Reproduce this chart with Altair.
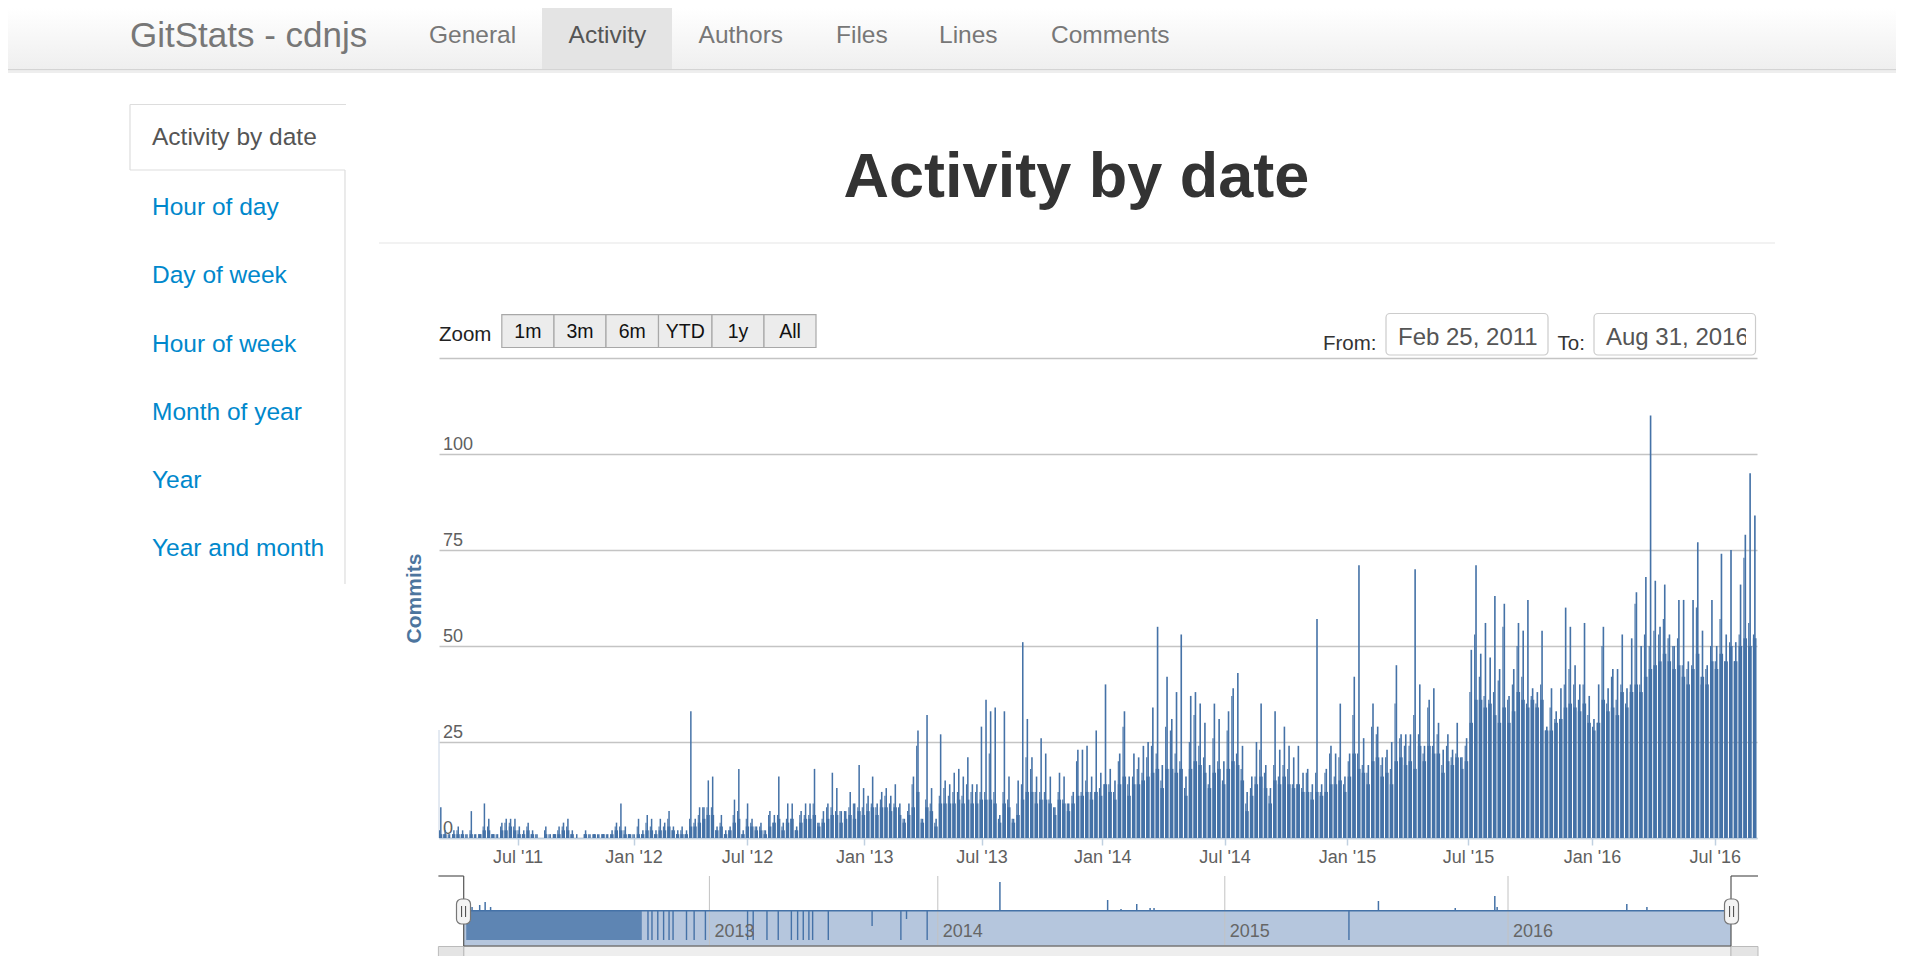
import altair as alt
import pandas as pd

# ---------------- data ----------------
# one entry per week, weeks start on Fridays from 2011-02-25
# blk = typical weekday commit level of the week, mid = second busiest day, pk = busiest day
blk_2011 = [1,1,0,1,1, 1,0,1,0,1, 2,2,1,0, 2,2,3,2,1, 1,2,1,0,0, 1,0,1, 1,2,2,1,0,0,1, 0,1,0,1,0, 1,2,2,1,1,0]
mid_2011 = [2,1,1,1,2, 1,1,2,1,1, 3,3,1,1, 3,4,4,3,2, 1,3,1,1,0, 2,1,1, 2,3,3,1,0,0,1, 1,1,1,1,1, 1,3,3,2,1,1]
pk_2011 = [8,2,1,2,3, 2,1,7,1,1, 9,5,1,1, 4,5,5,5,3, 2,4,2,1,0, 3,1,1, 3,4,5,2,1,0,2, 1,1,1,1,1, 2,4,9,3,1,1]

blk_2012 = [1,1,2,2,1,2,2,3,2,1,1,1, 3,3,4,5,6,6, 2,3,1,2,4,5,1,3,
            3,2,2,1,3,4,5,2,4,5,2,4,5,5,6,3,4,5,6,6,4,5,6,5,7,6]
mid_2012 = [3,1,4,3,1,3,3,5,2,1,2,1, 5,4,6,8,8,8, 2,4,1,2,6,7,1,5,
            4,3,3,2,6,4,6,3,5,5,2,6,6,6,9,4,5,8,8,7,7,7,8,9,8,8]
pk_2012 = [5,2,6,5,2,5,4,7,3,2,3,2, 33,5,8,8,15,16, 3,6,2,3,10,18,2,9,
           5,3,4,2,7,6,16,4,9,9,3,7,9,9,18,4,7,9,17,13,7,7,12,9,19,13]

blk_2013 = [7,8,6,8,8,7,8,6,4,6,8,12,4,8,7,3,9,9,9,9,10,9,10,9,9,10,
            10,10,9,4,9,8,4,6,10,12,12,9,10,10,9,6,10,9,7,9,11,11,12,10,12,11]
mid_2013 = [9,9,8,10,11,9,9,8,5,7,14,24,5,10,9,4,11,13,11,12,12,11,14,12,12,12,
            12,22,12,5,12,10,5,9,14,21,18,12,12,12,10,8,12,10,9,11,20,12,15,12,12,13]
pk_2013 = [11,16,9,12,13,11,14,9,5,9,16,28,5,32,13,5,27,15,14,17,18,16,21,14,14,29,
           36,33,34,6,33,16,5,15,51,31,21,16,26,22,16,8,17,16,9,12,23,23,24,16,28,17]

blk_2014 = [14,12,10,14,16,11,14,14,15,16,17,18,13,18,18,17,18,11,18,20,19,17,13,17,18,14,
            18,20,19,15,7,11,14,16,13,9,15,14,16,14,13,14,12,12,10,12,11,12,14,14,15,12]
mid_2014 = [14,14,12,20,29,14,16,18,17,21,24,22,15,29,28,22,20,13,25,32,24,21,14,26,20,15,
            28,37,22,18,9,13,16,23,17,11,19,16,19,18,14,14,13,17,12,17,12,17,22,16,21,14]
pk_2014 = [40,18,15,22,33,16,22,21,24,25,34,55,19,42,31,38,53,16,37,38,35,30,19,35,31,20,
           33,39,43,24,12,16,25,35,19,13,33,23,29,24,21,24,17,18,14,57,14,18,24,22,35,16]

blk_2015 = [16,22,18,17,14,20,21,16,17,14,20,21,19,20,18,24,20,24,22,22,17,20,19,21,18,20,
            30,36,36,34,35,32,30,34,30,33,38,36,34,36,34,36,28,28,30,31,34,35,34,33,35,30]
mid_2015 = [20,32,22,19,17,29,27,19,21,18,35,26,24,24,32,27,22,34,24,27,19,24,21,22,21,24,
            38,53,42,37,36,38,41,55,36,40,50,42,35,37,35,40,28,34,31,31,40,44,40,36,40,32]
pk_2015 = [22,42,71,26,19,35,29,21,23,25,45,27,27,27,70,40,24,36,39,30,23,27,23,30,21,26,
           49,71,48,56,47,63,44,61,37,44,56,54,62,39,38,54,29,39,33,39,60,55,45,40,56,37]

blk_2016 = [28,30,36,33,34,32,38,34,38,40,38,42,44,45,46,48,46,44,45,42,40,44,48,42,40,46,
            44,48,46,50,46,50,52,50,52]
mid_2016 = [29,30,50,35,42,36,40,35,40,61,40,53,50,54,53,57,52,50,52,45,44,45,60,40,44,50,
            46,57,46,51,46,53,73,56,53]
pk_2016 = [31,40,55,39,44,44,53,39,52,64,50,68,110,67,55,66,53,50,62,62,46,62,77,54,45,62,
           50,74,53,75,51,66,79,95,84]

x_tick_dates = ["2011-07-01", "2012-01-01", "2012-07-01", "2013-01-01", "2013-07-01", "2014-01-01",
                "2014-07-01", "2015-01-01", "2015-07-01", "2016-01-01", "2016-07-01"]
y_ticks = [0, 25, 50, 75, 100, 125]

nav_year_dates = ["2013-01-01", "2014-01-01", "2015-01-01", "2016-01-01"]
nav_year_labels = ["2013", "2014", "2015", "2016"]
nav_spike_dates = ["2011-03-20", "2011-04-10", "2011-04-25", "2011-05-10", "2014-03-21", "2014-08-05",
                   "2014-08-22", "2014-09-11", "2014-09-28", "2014-10-03", "2015-07-18", "2015-10-25",
                   "2015-12-15", "2015-12-18", "2016-03-27", "2016-05-10", "2016-06-01"]
nav_spike_h = [4, 6, 9, 4, 29, 11, 2, 7, 3, 3, 10, 3, 15, 4, 1, 7, 4]
nav_dip_dates = ["2012-07-16", "2012-07-27", "2012-08-12", "2012-08-28", "2012-09-12", "2012-09-23",
                 "2012-10-30", "2012-11-20", "2012-12-21", "2013-03-03", "2013-03-12", "2013-04-03",
                 "2013-04-21", "2013-05-12", "2013-05-22", "2013-05-31", "2013-06-09", "2013-06-15",
                 "2013-07-10", "2013-09-18", "2013-11-03", "2013-11-12", "2013-12-15", "2015-06-10"]
nav_dip_d = [-29, -29, -29, -29, -29, -29, -29, -29, -29, -29, -29, -29,
             -29, -29, -29, -29, -29, -29, -29, -15, -29, -8, -29, -29]
nav_dense_from = ["2011-03-04"]
nav_dense_to = ["2012-06-29"]
nav_dense_d = [-29]

# ---------------- helpers ----------------
FONT = "Liberation Sans"
OX, OY = 439.0, 358.0          # page position of plot origin
W, H = 1318, 480
PAD = {"left": 431, "top": 350, "right": 139, "bottom": 118}
BASE = pd.Timestamp("2011-02-25")


def day(s):
    """days since 2011-02-25 (the first day of the chart)"""
    return (pd.Timestamp(s) - BASE) / pd.Timedelta(days=1)


LABEL_EXPR = "utcFormat(utc(2011, 1, 25) + datum.value * 86400000, \"%b '%y\")"

blk = blk_2011 + blk_2012 + blk_2013 + blk_2014 + blk_2015 + blk_2016
mid = mid_2011 + mid_2012 + mid_2013 + mid_2014 + mid_2015 + mid_2016
pk = pk_2011 + pk_2012 + pk_2013 + pk_2014 + pk_2015 + pk_2016
starts = pd.date_range("2011-02-25", periods=len(blk), freq="7D")
d0 = [day(s) for s in starts]
df = pd.DataFrame({
    "start": d0,
    "end": [d + 5.3 for d in d0],
    "m1": [d + 1.7 for d in d0],
    "s1": [d + 4.1 for d in d0],
    "blk": blk,
    "mid": mid,
    "pk": pk,
})

# the stock chart's compressed (ordinal) time axis, as a piecewise linear scale
x_breaks = [day(s) for s in ["2011-02-25"] + x_tick_dates + ["2016-09-01"]]
x_range = [0, 78.5, 194.6, 308, 425.3, 542.5, 663.2, 785.6, 908, 1029, 1153, 1275.7, 1318]
xs = alt.Scale(type="linear", domain=x_breaks, range=x_range, nice=False, zero=False, padding=0)
ys = alt.Scale(domain=[0, 125], range=[H, 0], nice=False, zero=True, padding=0)

nav_breaks = [day(s) for s in ["2011-02-25", "2013-01-01", "2014-01-01", "2015-01-01", "2016-01-01", "2016-09-01"]]
nav_range = [24.7, 270.4, 498.8, 785.8, 1069, 1292]
navx = alt.Scale(type="linear", domain=nav_breaks, range=nav_range, nice=False, zero=False, padding=0)
navy = alt.Scale(domain=[-35, 35], range=[588, 518], nice=False, zero=False, padding=0)


def rect_df(rows):
    return pd.DataFrame([{"x": a - OX, "y": b - OY, "x2": c - OX, "y2": d - OY,
                          "fill": f, "stroke": s, "sw": w} for (a, b, c, d, f, s, w) in rows])


def rect_layer(rows, **mk):
    return alt.Chart(rect_df(rows)).mark_rect(**mk).encode(
        x=alt.X("x:Q", scale=None, axis=None), x2="x2:Q",
        y=alt.Y("y:Q", scale=None, axis=None), y2="y2:Q",
        fill=alt.Fill("fill:N", scale=None),
        stroke=alt.Stroke("stroke:N", scale=None),
        strokeWidth=alt.StrokeWidth("sw:Q", scale=None))


def rule_layer(rows):
    d = pd.DataFrame([{"x": a - OX, "y": b - OY, "x2": c - OX, "y2": e - OY, "c": col, "w": w}
                      for (a, b, c, e, col, w) in rows])
    return alt.Chart(d).mark_rule().encode(
        x=alt.X("x:Q", scale=None, axis=None), x2="x2:Q",
        y=alt.Y("y:Q", scale=None, axis=None), y2="y2:Q",
        color=alt.Color("c:N", scale=None),
        strokeWidth=alt.StrokeWidth("w:Q", scale=None))


def text_layer(rows, **mk):
    d = pd.DataFrame([{"t": t, "x": a - OX, "y": b - OY, "s": s, "c": c} for (t, a, b, s, c) in rows])
    return alt.Chart(d).mark_text(font=FONT, **mk).encode(
        x=alt.X("x:Q", scale=None, axis=None), y=alt.Y("y:Q", scale=None, axis=None),
        text="t:N", size=alt.Size("s:Q", scale=None), color=alt.Color("c:N", scale=None))


one = pd.DataFrame({"k": [0]})

# ---------------- page chrome ----------------
navbar = alt.Chart(one).mark_rect(fill=alt.Gradient(
    gradient="linear", x1=0, x2=0, y1=0, y2=1,
    stops=[alt.GradientStop(color="#ffffff", offset=0), alt.GradientStop(color="#efefef", offset=1)])
).encode(x=alt.value(-431), x2=alt.value(1466), y=alt.value(-350), y2=alt.value(69 - OY))

btn_x = [501.8, 554, 606, 658.5, 712, 764, 816]
back_rects = [
    (0, 69, 1905, 70.5, "#d4d4d4", "transparent", 0),
    (0, 70.5, 1905, 73, "#eeeeee", "transparent", 0),
    (542, 8, 672, 69, "#e4e4e4", "transparent", 0),
    (463.7, 910.7, 1731, 946, "#b5c6dd", "transparent", 0),
    (463.7, 946, 1731, 975, "#eeeeee", "#bbbbbb", 1),
    (438.4, 946.5, 463.7, 975, "#e4e4e4", "#bbbbbb", 1),
    (1731, 946.5, 1758, 975, "#e4e4e4", "#bbbbbb", 1),
] + [(btn_x[i], 314.7, btn_x[i + 1], 347.5, "#ececec", "#a8a8a8", 1.2) for i in range(6)]

inputs = [
    (1386, 313.5, 1548, 355, "#ffffff", "#cccccc", 1.2),
    (1594, 313.5, 1755.5, 355, "#ffffff", "#cccccc", 1.2),
]

chrome_rules = [
    (130, 104.5, 346, 104.5, "#dddddd", 1.2),
    (130, 104.5, 130, 170, "#dddddd", 1.2),
    (130, 170, 345, 170, "#dddddd", 1.2),
    (345, 170, 345, 584, "#dddddd", 1.2),
    (379, 243, 1775, 243, "#eeeeee", 1.3),
    (439, 730, 439, 838, "#c8d4e4", 1),
]

nav_rules = [
    (463.7, 910.7, 1731, 910.7, "#4572a7", 1.5),
    (438.4, 876, 463.7, 876, "#555555", 1.2),
    (463.7, 876, 463.7, 946, "#555555", 1.2),
    (463.7, 946, 1731, 946, "#555555", 1.2),
    (1731, 946, 1731, 876, "#555555", 1.2),
    (1731, 876, 1758, 876, "#555555", 1.2),
]

handles = [
    (456.5, 899, 470.5, 924, "#f4f4f4", "#777777", 1.2),
    (1724.5, 899, 1738.5, 924, "#f4f4f4", "#777777", 1.2),
]
grips = [
    (461.6, 906, 461.6, 917, "#444444", 1),
    (465.6, 906, 465.6, 917, "#444444", 1),
    (1729.6, 906, 1729.6, 917, "#444444", 1),
    (1733.6, 906, 1733.6, 917, "#444444", 1),
]

texts_left = [
    ("GitStats - cdnjs", 130, 36, 35, "#777777"),
    ("General", 429, 36, 24.5, "#777777"),
    ("Activity", 568.6, 36, 24.5, "#555555"),
    ("Authors", 698.6, 36, 24.5, "#777777"),
    ("Files", 836, 36, 24.5, "#777777"),
    ("Lines", 939, 36, 24.5, "#777777"),
    ("Comments", 1051, 36, 24.5, "#777777"),
    ("Activity by date", 152, 138, 24.5, "#555555"),
    ("Hour of day", 152, 207.5, 24.5, "#0088cc"),
    ("Day of week", 152, 275.6, 24.5, "#0088cc"),
    ("Hour of week", 152, 344.8, 24.5, "#0088cc"),
    ("Month of year", 152, 412.9, 24.5, "#0088cc"),
    ("Year", 152, 481, 24.5, "#0088cc"),
    ("Year and month", 152, 549, 24.5, "#0088cc"),
    ("Zoom", 439, 334.5, 20.5, "#222222"),
    ("From:", 1323, 344, 20.5, "#333333"),
    ("To:", 1557.5, 344, 20.5, "#333333"),
    ("Feb 25, 2011", 1398, 338, 24, "#555555"),
    ("Aug 31, 2016", 1606, 338, 24, "#555555"),
]
btn_labels = ["1m", "3m", "6m", "YTD", "1y", "All"]
texts_center = [(btn_labels[i], (btn_x[i] + btn_x[i + 1]) / 2, 332, 19.5, "#111111") for i in range(6)]
texts_bold = [("Activity by date", 1076.4, 196.7, 63, "#333333")]
mask = [(1746, 316, 1754.3, 353, "#ffffff", "transparent", 0)]

# ---------------- main chart ----------------
xaxis = alt.Axis(values=[day(s) for s in x_tick_dates], labelExpr=LABEL_EXPR, title=None, grid=False,
                 labelFont=FONT, labelFontSize=18, labelColor="#606060", labelPadding=3,
                 labelFlush=False, labelOverlap=False, labelBound=False,
                 tickColor="#C0D0E0", tickSize=7, tickWidth=1.5,
                 domainColor="#C0D0E0", domainWidth=1.5)
yaxis = alt.Axis(values=y_ticks, grid=True, gridColor="#c4c4c4", gridWidth=1.3,
                 domain=False, ticks=False, tickSize=0,
                 labelAlign="left", labelBaseline="alphabetic", labelPadding=-3.5, labelOffset=-5,
                 labelExpr="datum.value == 125 ? '' : datum.label",
                 labelFont=FONT, labelFontSize=18, labelColor="#606060",
                 labelFlush=False, labelOverlap=False,
                 title="Commits", titleFont=FONT, titleFontSize=21, titleColor="#4d759e",
                 titleFontWeight="bold", titleX=-25, titleY=240, titleAngle=270,
                 titleAlign="center", titleBaseline="middle")

BAR = "#4572a7"
bars = alt.Chart(df).mark_bar(color=BAR).encode(
    x=alt.X("start:Q", scale=xs, axis=xaxis), x2="end:Q",
    y=alt.Y("blk:Q", scale=ys, axis=yaxis, stack=None), y2=alt.datum(0))
mids = alt.Chart(df).mark_bar(color=BAR).encode(
    x=alt.X("start:Q", scale=xs, axis=None), x2="m1:Q",
    y=alt.Y("mid:Q", scale=ys, axis=None, stack=None), y2=alt.datum(0))
spikes = alt.Chart(df).mark_bar(color=BAR).encode(
    x=alt.X("m1:Q", scale=xs, axis=None), x2="s1:Q",
    y=alt.Y("pk:Q", scale=ys, axis=None, stack=None), y2=alt.datum(0))

# ---------------- navigator ----------------
nav_years = pd.DataFrame({"d": [day(s) for s in nav_year_dates], "lab": nav_year_labels})
nav_grid = alt.Chart(nav_years).mark_rule(color="#c2c2c2", strokeWidth=1).encode(
    x=alt.X("d:Q", scale=navx, axis=None), y=alt.value(518), y2=alt.value(588))
nav_lab = alt.Chart(nav_years).mark_text(font=FONT, fontSize=18, color="#666666", align="left",
                                         baseline="middle", dx=5).encode(
    x=alt.X("d:Q", scale=navx, axis=None), y=alt.value(932 - OY), text="lab:N")
dense = alt.Chart(pd.DataFrame({"a": [day(s) for s in nav_dense_from], "b": [day(s) for s in nav_dense_to],
                                "dep": nav_dense_d})).mark_rect(color=BAR, opacity=0.78).encode(
    x=alt.X("a:Q", scale=navx, axis=None), x2="b:Q",
    y=alt.Y("dep:Q", scale=navy, axis=None), y2=alt.datum(0))
dips = alt.Chart(pd.DataFrame({"d": [day(s) for s in nav_dip_dates], "dep": nav_dip_d})).mark_rule(
    color=BAR, strokeWidth=1.4).encode(
    x=alt.X("d:Q", scale=navx, axis=None),
    y=alt.Y("dep:Q", scale=navy, axis=None), y2=alt.datum(0))
nspk = alt.Chart(pd.DataFrame({"d": [day(s) for s in nav_spike_dates], "h": nav_spike_h})).mark_rule(
    color=BAR, strokeWidth=1.5).encode(
    x=alt.X("d:Q", scale=navx, axis=None),
    y=alt.Y("h:Q", scale=navy, axis=None), y2=alt.datum(0))

chart = alt.layer(
    navbar,
    rect_layer(back_rects),
    rect_layer(inputs, cornerRadius=4),
    rule_layer(chrome_rules),
    bars,
    mids,
    spikes,
    nav_grid,
    dense,
    dips,
    nspk,
    rule_layer(nav_rules),
    rect_layer(handles, cornerRadius=5),
    rule_layer(grips),
    nav_lab,
    text_layer(texts_left, align="left", baseline="middle"),
    text_layer(texts_center, align="center", baseline="middle"),
    text_layer(texts_bold, align="center", baseline="alphabetic", fontWeight="bold"),
    rect_layer(mask),
).resolve_scale(x="independent", y="independent").properties(
    width=W, height=H, padding=PAD, autosize=alt.AutoSizeParams(type="none"), background="white"
).configure_view(strokeWidth=0)

chart.save("out.html", embed_options={"renderer": "svg", "actions": False})
